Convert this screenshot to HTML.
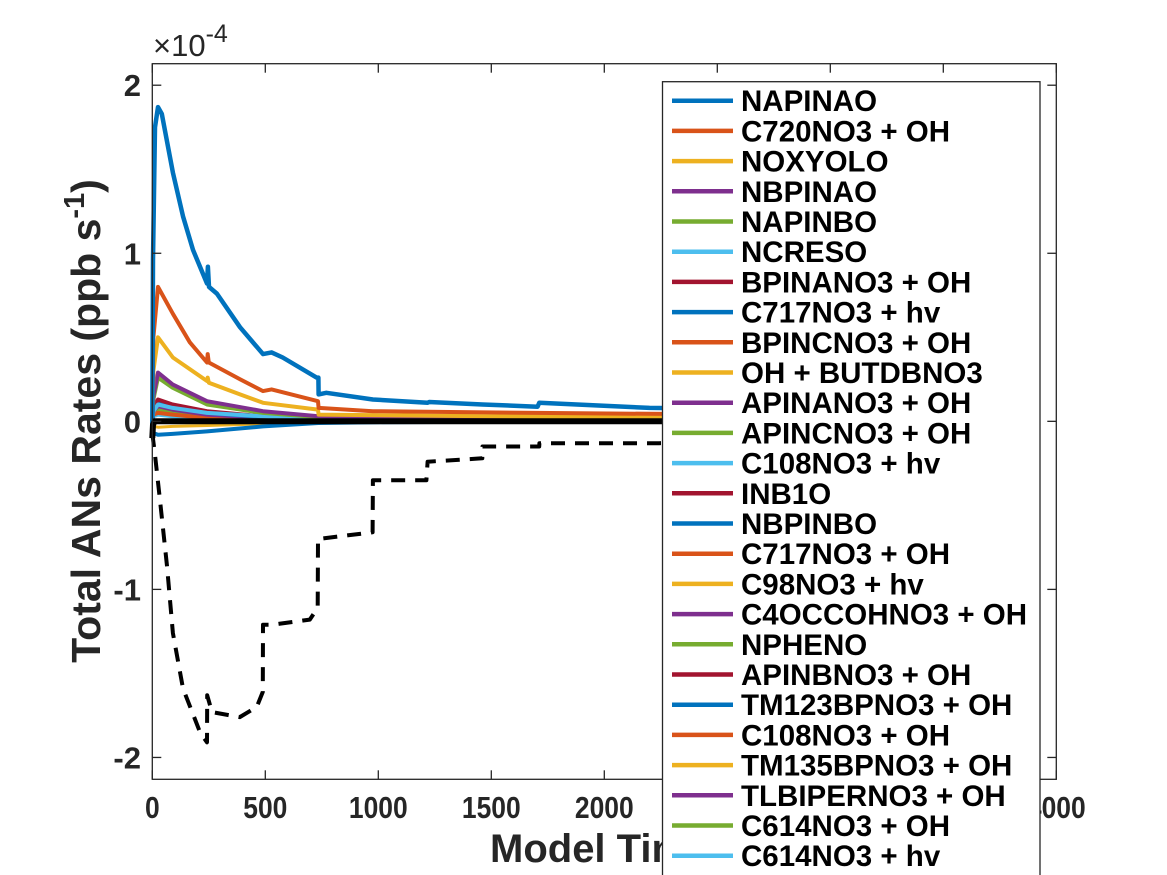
<!DOCTYPE html>
<html><head><meta charset="utf-8"><style>
html,body{margin:0;padding:0;background:#fff;}
svg{display:block;font-family:"Liberation Sans",Arial,sans-serif;font-weight:bold;}
</style></head><body>
<svg id="chart" width="1167" height="875" viewBox="0 0 1167 875" xmlns="http://www.w3.org/2000/svg">
<rect width="1167" height="875" fill="#fff"/>
<g id="marks"></g>
<g id="axes"></g>
<g id="legend"></g>
</svg>
<script>
const xTicks = [0, 500, 1000, 1500, 2000, 2500, 3000, 3500, 4000];
const xTickLabels = ['0','500','1000','1500','2000','2500','3000','3500','4000'];
const yTicks = [-2, -1, 0, 1, 2];
const yTickLabels = ['-2','-1','0','1','2'];
const tBlue = [0,3,12,25,42,91,136,180,242,246,251,286,388,490,528,577,727,735,736,770,976,1218,1225,1461,1705,1712,2200,3850];
const vBlue = [-0.03,0.96,1.75,1.87,1.83,1.48,1.22,1.02,0.82,0.92,0.80,0.76,0.56,0.40,0.41,0.38,0.26,0.26,0.16,0.17,0.13,0.11,0.115,0.10,0.087,0.11,0.08,0.05];
const tOrange = [0,5,25,91,166,242,245,250,388,490,528,733,736,976,1700,2200,3850];
const vOrange = [-0.02,0.5,0.80,0.64,0.47,0.35,0.40,0.35,0.25,0.18,0.19,0.12,0.08,0.06,0.05,0.045,0.03];
const tYellow = [0,5,25,91,242,245,250,388,490,733,736,1500,3850];
const vYellow = [-0.02,0.3,0.50,0.38,0.24,0.26,0.23,0.16,0.11,0.07,0.04,0.03,0.02];
const tSmall = [0,5,25,90,242,490,735,1000,1500,2200,3850];
const vPurple = [0,0.15,0.29,0.22,0.12,0.06,0.03,0.02,0.015,0.01,0.005];
const vGreen = [0,0.13,0.26,0.20,0.10,0.05,0.025,0.02,0.015,0.01,0.005];
const vCyan = [0,0.06,0.10,0.08,0.05,0.03,0.015,0.01,0.008,0.006,0.004];
const vRed = [0,0.08,0.13,0.10,0.06,0.03,0.015,0.01,0.008,0.006,0.004];
const vBlue2 = [0,0.07,0.11,0.09,0.05,0.025,0.012,0.01,0.008,0.006,0.004];
const vPurple2 = [0,0.06,0.09,0.07,0.04,0.02,0.01,0.008,0.006,0.005,0.003];
const vOrange2 = [0,0.04,0.05,0.04,0.02,0.01,0.008,0.006,0.005,0.004,0.003];
const vGreen2 = [0,0.05,0.07,0.05,0.03,0.015,0.008,0.006,0.005,0.004,0.003];
const vCyan2 = [0,0.03,0.04,0.03,0.02,0.01,0.006,0.005,0.004,0.003,0.002];
const vNeg = [-0.05,-0.07,-0.08,-0.075,-0.06,-0.03,-0.01,-0.005,-0.003,-0.002,-0.001];
const vNegY = [-0.02,-0.03,-0.035,-0.03,-0.025,-0.015,-0.005,-0.003,-0.002,-0.001,0];
const tDash = [0,12,34,65,91,136,211,242,243,264,387,462,489,490,533,697,732,733,975,976,1213,1218,1460,1461,1712,1713,1947,2243,3850];
const vDash = [-0.07,-0.20,-0.47,-0.86,-1.26,-1.59,-1.85,-1.91,-1.63,-1.73,-1.76,-1.70,-1.61,-1.21,-1.21,-1.18,-1.11,-0.70,-0.66,-0.35,-0.35,-0.24,-0.22,-0.15,-0.15,-0.13,-0.13,-0.13,-0.11];
const tBlack = [0,3,10,3850];
const vBlack = [-0.1,-0.02,0,0];
const legendNames = ['NAPINAO','C720NO3 + OH','NOXYOLO','NBPINAO','NAPINBO','NCRESO','BPINANO3 + OH','C717NO3 + hv','BPINCNO3 + OH','OH + BUTDBNO3','APINANO3 + OH','APINCNO3 + OH','C108NO3 + hv','INB1O','NBPINBO','C717NO3 + OH','C98NO3 + hv','C4OCCOHNO3 + OH','NPHENO','APINBNO3 + OH','TM123BPNO3 + OH','C108NO3 + OH','TM135BPNO3 + OH','TLBIPERNO3 + OH','C614NO3 + OH','C614NO3 + hv','BPINBNO3 + OH'];
const legendColorIdx = [0,1,2,3,4,5,6,0,1,2,3,4,5,6,0,1,2,3,4,6,0,1,2,3,4,5,6];

const NS='http://www.w3.org/2000/svg';
const colors=['#0072BD','#D95319','#EDB120','#7E2F8E','#77AC30','#4DBEEE','#A2142F'];
const L=152.3,R=1056.3,T=63.7,B=779.3,XMIN=0,XMAX=4000,YMIN=-2.13,YMAX=2.128;
function xs(t){return L+(t-XMIN)/(XMAX-XMIN)*(R-L);}
function ys(v){return B-(v-YMIN)/(YMAX-YMIN)*(B-T);}
function mk(tag,attrs,parent){const e=document.createElementNS(NS,tag);for(const k in attrs)e.setAttribute(k,attrs[k]);parent.appendChild(e);return e;}
const marks=document.getElementById('marks');
const axes=document.getElementById('axes');
const legend=document.getElementById('legend');
function series(ts,vs,color,w,name,dash){
  const d=ts.map((t,i)=>(i?'L':'M')+xs(t).toFixed(1)+','+ys(vs[i]).toFixed(1)).join(' ');
  const p=mk('path',{d:d,fill:'none',stroke:color,'stroke-width':w,'stroke-linejoin':'round'},marks);
  if(dash)p.setAttribute('stroke-dasharray',dash);
  
  
}
series(tSmall,vNegY,colors[2],3,'line-small-neg-yellow');
series(tSmall,vNeg,colors[0],4,'line-small-neg-blue');
series(tSmall,vCyan2,colors[5],4,'line-small-cyan2');
series(tSmall,vGreen2,colors[4],4,'line-small-green2');
series(tSmall,vOrange2,colors[1],4,'line-small-orange');
series(tSmall,vPurple2,colors[3],4,'line-small-purple');
series(tSmall,vBlue2,colors[0],4,'line-small-blue');
series(tSmall,vRed,colors[6],4,'line-small-red');
series(tSmall,vCyan,colors[5],4,'line-small-cyan');
series(tSmall,vGreen,colors[4],4,'line-napinbo');
series(tSmall,vPurple,colors[3],4,'line-nbpinao');
series(tYellow,vYellow,colors[2],4,'line-noxyolo');
series(tOrange,vOrange,colors[1],4,'line-c720no3-oh');
series(tBlue,vBlue,colors[0],4.5,'line-napinao');
series(tBlack,vBlack,'#000',6,'line-total-zero');
series(tDash,vDash,'#000',4,'line-total-dashed','14,10');

const box=mk('rect',{x:L,y:T,width:R-L,height:B-T,fill:'none',stroke:'#262626','stroke-width':1.3},axes);


xTicks.forEach((t,i)=>{
  const x=xs(t);
  mk('line',{x1:x,y1:B,x2:x,y2:B-9,stroke:'#262626','stroke-width':1.3},axes);
  mk('line',{x1:x,y1:T,x2:x,y2:T+9,stroke:'#262626','stroke-width':1.3},axes);
  const tx=mk('text',{x:x,y:818,'text-anchor':'middle','font-size':31,fill:'#262626',textLength:(xTickLabels[i].length*14.7),lengthAdjust:'spacingAndGlyphs'},axes);
  tx.textContent=xTickLabels[i];
  
  
});
yTicks.forEach((v,i)=>{
  const y=ys(v);
  mk('line',{x1:L,y1:y,x2:L+9,y2:y,stroke:'#262626','stroke-width':1.3},axes);
  mk('line',{x1:R,y1:y,x2:R-9,y2:y,stroke:'#262626','stroke-width':1.3},axes);
  const tx=mk('text',{x:141,y:y+11,'text-anchor':'end','font-size':31,fill:'#262626'},axes);
  tx.textContent=yTickLabels[i];
  
  
});
const ex=mk('text',{x:153,y:56,'font-size':31,fill:'#262626','font-weight':'normal'},axes);
ex.innerHTML='×10<tspan dy="-14" font-size="25">-4</tspan>';


const yl=mk('text',{x:0,y:0,'font-size':41,fill:'#262626','text-anchor':'middle',transform:'translate(100,421) rotate(-90)'},axes);
yl.innerHTML='Total ANs Rates (ppb s<tspan dy="-16" font-size="29">-1</tspan><tspan dy="16">)</tspan>';


const xl=mk('text',{x:490,y:862,'font-size':40,fill:'#262626'},axes);
xl.textContent='Model Time (s)';



const lb=mk('rect',{x:662.5,y:81.7,width:377.5,height:820,fill:'#fff',stroke:'#262626','stroke-width':1.3},legend);


legendNames.forEach((n,i)=>{
  const y=100.7+i*30.2;
  const g=mk('g',{},legend);
  
  
  mk('line',{x1:672,y1:y,x2:733,y2:y,stroke:colors[legendColorIdx[i]],'stroke-width':4.5},g);
  const tx=mk('text',{x:741,y:y+10.5,'font-size':29.5,fill:'#000'},g);
  tx.textContent=n;
});
</script>
</body></html>
